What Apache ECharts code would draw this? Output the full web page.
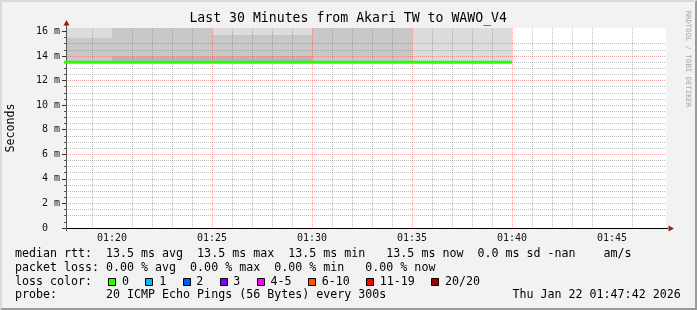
<!DOCTYPE html>
<html>
<head>
<meta charset="utf-8">
<title>SmokePing</title>
<script src="https://cdn.jsdelivr.net/npm/echarts@6.0.0/dist/echarts.min.js"></script>
<style>
html,body{margin:0;padding:0;background:#f2f2f2;overflow:hidden;}
#c{position:absolute;left:0;top:0;width:697px;height:310px;}
#frame{position:absolute;left:0;top:0;width:697px;height:310px;box-sizing:border-box;border:2px solid;border-color:#dadada #9a9a9a #9a9a9a #dadada;pointer-events:none;}
</style>
</head>
<body>
<div id="c"></div>
<div id="frame"></div>
<script>
// ---------------- data ----------------
const titleText = 'Last 30 Minutes from Akari TW to WAWO_V4';
const yAxisTitle = 'Seconds';
const watermarkText = 'RRDTOOL / TOBI OETIKER';
const graphStart = '01:17:42';
const graphEnd = '01:47:42';
const xTickLabels = ['01:20', '01:25', '01:30', '01:35', '01:40', '01:45'];
const yTickValues = [0, 2, 4, 6, 8, 10, 12, 14, 16];
const yTopMs = 16.28;
// 300 s RRD rows (start of each row) and the end of the last row
const stepStarts = ['01:15', '01:20', '01:25', '01:30', '01:35'];
const lastStepEnd = '01:40';
const medianMs        = [13.5, 13.5, 13.5, 13.5, 13.5];
const smokeLowMs      = [13.45, 13.45, 13.45, 13.45, 13.45];
const smokeInnerTopMs = [13.55, 13.93, 13.95, 13.45, 13.45];
const smokeMidTopMs   = [15.47, 16.6, 15.72, 16.6, 13.45];
const smokeMaxMs      = [16.6, 16.6, 16.6, 16.6, 16.6];
const rttValues  = ['13.5', '13.5', '13.5', '13.5'];   // avg max min now
const rttSd      = '0.0';
const rttAmps    = '-nan';
const lossValues = ['0.00', '0.00', '0.00', '0.00'];   // avg max min now
const lossColorLabels = ['0', '1', '2', '3', '4-5', '6-10', '11-19', '20/20'];
const lossColors = ['#26ff00', '#00b8ff', '#0059ff', '#7e00ff', '#ff00ff', '#ff5500', '#ff0000', '#a10000'];
const probeText = '20 ICMP Echo Pings (56 Bytes) every 300s';
const dateText  = 'Thu Jan 22 01:47:42 2026';

// ---------------- helpers ----------------
const MONO = '"DejaVu Sans Mono", "Liberation Mono", monospace';
const toMin = s => { const p = s.split(':').map(Number); return p[0] * 60 + p[1] + (p.length > 2 ? p[2] / 60 : 0); };
const xMin = toMin(graphStart), xMax = toMin(graphEnd);
const xMajor = xTickLabels.map(toMin);
const xMinor = [];
for (let m = Math.ceil(xMin); m <= Math.floor(xMax); m++) if (m % 5 !== 0) xMinor.push(m);
const yMinor = [];
for (let k = 0; k * 0.5 <= yTopMs; k++) if ((k * 0.5) % 2 !== 0) yMinor.push(k * 0.5);
const starts = stepStarts.map(toMin);
const endT = toMin(lastStepEnd);
function stepData(vals) {
  const d = starts.map((t, i) => [t, vals[i]]);
  d.push([endT, vals[vals.length - 1]]);
  return d;
}
const majorColor = 'rgba(228,40,40,0.42)';
const minorColor = 'rgba(105,105,105,0.42)';

function smoke(name, vals, color) {
  return {
    name, type: 'line', step: 'end', data: stepData(vals),
    symbol: 'none', showSymbol: false, silent: true, animation: false,
    lineStyle: { width: 0, opacity: 0 },
    areaStyle: { color, opacity: 1, origin: 'start' },
    z: 2
  };
}

// ---------------- legend / text graphics ----------------
const FS = 11.65, CW = FS * 0.6023, X0 = 14.9;
const rowY = [254.4, 268.0, 281.7, 295.4];
function txt(text, x, y, font, fill, align, rot) {
  return {
    type: 'text', x, y, rotation: rot || 0, silent: true,
    style: { text, font, fill: fill || '#000', align: align || 'left', verticalAlign: 'middle',
             textAlign: align || 'left', textVerticalAlign: 'middle' }
  };
}
const line1 = 'median rtt:  ' + rttValues[0] + ' ms avg  ' + rttValues[1] + ' ms max  ' + rttValues[2] +
  ' ms min   ' + rttValues[3] + ' ms now  ' + rttSd + ' ms sd ' + rttAmps + '    am/s';
const line2 = 'packet loss: ' + lossValues[0] + ' % avg  ' + lossValues[1] + ' % max  ' + lossValues[2] +
  ' % min   ' + lossValues[3] + ' % now';
let line4 = 'probe:       ' + probeText;
while (line4.length < 71) line4 += ' ';
line4 += dateText;

const graphics = [
  txt(titleText, 348.2, 18.3, '13.2px ' + MONO, '#000', 'center'),
  txt(yAxisTitle, 10.5, 128, FS + 'px ' + MONO, '#000', 'center', Math.PI / 2),
  txt(watermarkText, 688.3, 59, '7.3px ' + MONO, '#a8a8a8', 'center', -Math.PI / 2),
  txt(line1, X0, rowY[0], FS + 'px ' + MONO),
  txt(line2, X0, rowY[1], FS + 'px ' + MONO),
  txt('loss color:', X0, rowY[2], FS + 'px ' + MONO),
  txt(line4, X0, rowY[3], FS + 'px ' + MONO)
];
let bx = X0 + 13 * CW + 2.2;
lossColorLabels.forEach((lab, i) => {
  const rx = Math.round(bx) + 0.5;
  graphics.push({ type: 'rect', silent: true, shape: { x: rx, y: 278.5, width: 7, height: 7 },
                  style: { fill: lossColors[i], stroke: '#000', lineWidth: 1 } });
  const lx = bx + 13.7;
  graphics.push(txt(lab, lx, rowY[2], FS + 'px ' + MONO));
  bx = lx + lab.length * CW + 16.4;
});

// ---------------- chart ----------------
const hiddenTick = (vals) => ({ show: true, length: 0, customValues: vals, lineStyle: { color: 'rgba(0,0,0,0)', width: 0 } });
const chart = echarts.init(document.getElementById('c'), null, { renderer: 'canvas', width: 697, height: 310 });
const option = {
  animation: false,
  backgroundColor: '#f2f2f2',
  grid: { left: 66, right: 31, top: 28, bottom: 82, show: true, backgroundColor: '#ffffff', borderWidth: 0 },
  xAxis: [{
    type: 'value', min: xMin, max: xMax, z: 10,
    axisLine: { show: true, onZero: false, lineStyle: { color: '#000', width: 1 } },
    axisTick: hiddenTick(xMajor),
    axisLabel: {
      customValues: xMajor, margin: 5, color: '#111', fontFamily: MONO, fontSize: 10,
      formatter: v => { const i = xMajor.findIndex(t => Math.abs(t - v) < 1e-6); return i >= 0 ? xTickLabels[i] : ''; }
    },
    splitLine: { show: true, showMinLine: false, showMaxLine: false, lineStyle: { color: majorColor, type: [1, 1], width: 1 } }
  }, {
    type: 'value', min: xMin, max: xMax, z: 9, position: 'bottom',
    axisLine: { show: false },
    axisTick: hiddenTick(xMinor),
    axisLabel: { show: false },
    splitLine: { show: true, showMinLine: false, showMaxLine: false, lineStyle: { color: minorColor, type: [1, 1], width: 1 } }
  }],
  yAxis: [{
    type: 'value', min: 0, max: yTopMs, z: 10,
    axisLine: { show: true, onZero: false, lineStyle: { color: '#555', width: 1 } },
    axisTick: { show: true, length: 4, customValues: yTickValues, lineStyle: { color: '#333' } },
    axisLabel: {
      customValues: yTickValues, margin: 6, color: '#111', fontFamily: MONO, fontSize: 10,
      formatter: v => (v === 0 ? '0  ' : v + ' m')
    },
    splitLine: { show: true, showMinLine: false, showMaxLine: false, lineStyle: { color: majorColor, type: [1, 1], width: 1 } }
  }, {
    type: 'value', min: 0, max: yTopMs, position: 'left', z: 9,
    axisLine: { show: false },
    axisTick: { show: true, length: 2, customValues: yMinor, lineStyle: { color: '#555' } },
    axisLabel: { show: false },
    splitLine: { show: true, showMinLine: false, showMaxLine: false, lineStyle: { color: minorColor, type: [1, 1], width: 1 } }
  }],
  series: [
    smoke('smoke outer', smokeMaxMs, '#dcdcdc'),
    smoke('smoke middle', smokeMidTopMs, '#c8c8c8'),
    smoke('smoke inner', smokeInnerTopMs, '#b6b6b6'),
    smoke('smoke floor', smokeLowMs, '#ffffff'),
    {
      name: 'median rtt', type: 'line', step: 'end', data: stepData(medianMs),
      symbol: 'none', showSymbol: false, silent: true, animation: false,
      lineStyle: { width: 3, color: lossColors[0] }, z: 11
    }
  ],
  graphic: { elements: graphics }
};
chart.setOption(option);

// axis arrows (positioned through the grid's own scales)
const pTop = chart.convertToPixel({ gridIndex: 0 }, [xMin, yTopMs]);
const pOrigin = chart.convertToPixel({ gridIndex: 0 }, [xMin, 0]);
const pRight = chart.convertToPixel({ gridIndex: 0 }, [xMax, 0]);
const ax = Math.round(pTop[0]) + 0.5;
const ay = Math.round(pRight[1]) + 0.5;
const arrowColor = '#9b1c1c';
chart.setOption({
  graphic: {
    elements: graphics.concat([
      { type: 'line', silent: true, z: 20, shape: { x1: ax, y1: pTop[1], x2: ax, y2: pTop[1] - 3 }, style: { stroke: '#555', lineWidth: 1 } },
      { type: 'line', silent: true, z: 20, shape: { x1: ax, y1: pOrigin[1], x2: ax, y2: pOrigin[1] + 3 }, style: { stroke: '#555', lineWidth: 1 } },
      { type: 'line', silent: true, z: 20, shape: { x1: pRight[0], y1: ay, x2: pRight[0] + 2, y2: ay }, style: { stroke: '#000', lineWidth: 1 } },
      { type: 'polygon', silent: true, z: 20, shape: { points: [[ax, pTop[1] - 8], [ax - 3, pTop[1] - 2.5], [ax + 3, pTop[1] - 2.5]] }, style: { fill: arrowColor } },
      { type: 'polygon', silent: true, z: 20, shape: { points: [[pRight[0] + 8, ay], [pRight[0] + 2.5, ay - 3], [pRight[0] + 2.5, ay + 3]] }, style: { fill: arrowColor } }
    ])
  }
});
</script>
</body>
</html>
